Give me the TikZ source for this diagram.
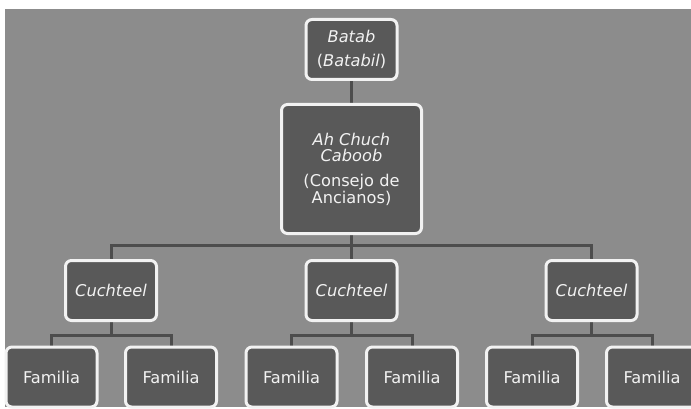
\documentclass[tikz,border=0pt]{standalone}
\usepackage{fontspec}
\setmainfont{DejaVu Sans}
\definecolor{bggray}{HTML}{8C8C8C}
\definecolor{boxgray}{HTML}{595959}
\definecolor{linegray}{HTML}{4D4D4D}
\definecolor{rimwhite}{HTML}{F2F2F2}
\pgfdeclarelayer{back}
\pgfdeclarelayer{mid}
\pgfsetlayers{back,mid,main}
\tikzset{
  orgbox/.style={rectangle, rounded corners=6pt, draw=rimwhite, line width=3pt,
    fill=boxgray, text=rimwhite, align=center, minimum width=91pt, minimum height=60pt,
    inner sep=2pt, font=\fontsize{16.2}{16.5}\selectfont},
  conn/.style={draw=linegray, line width=3pt}
}
\begin{document}
\begin{tikzpicture}[x=1pt,y=-1pt]
\useasboundingbox (0,0) rectangle (691,409);
\begin{pgfonlayer}{back}
\fill[white] (0,0) rectangle (691,409);
\fill[bggray] (5,9) rectangle (691,407);
\end{pgfonlayer}
\node[orgbox] (batab) at (351.5,49.5) {\textit{Batab}\\[8pt](\textit{Batabil})};
\node[orgbox, minimum width=140pt, minimum height=129pt] (council) at (351.5,169) {\textit{Ah Chuch}\\\textit{Caboob}\\[8.5pt](Consejo de\\Ancianos)};
\node[orgbox] (c1) at (111,290.5) {\textit{Cuchteel}};
\node[orgbox] (c2) at (351.5,290.5) {\textit{Cuchteel}};
\node[orgbox] (c3) at (591.5,290.5) {\textit{Cuchteel}};
\node[orgbox] (f1) at (51.5,377) {Familia};
\node[orgbox] (f2) at (171,377) {Familia};
\node[orgbox] (f3) at (291.5,377) {Familia};
\node[orgbox] (f4) at (412,377) {Familia};
\node[orgbox] (f5) at (532,377) {Familia};
\node[orgbox] (f6) at (652,377) {Familia};
\begin{pgfonlayer}{mid}
\draw[conn] (batab.south) -- (council.north);
\draw[conn] (council.south) -- ++(0,10) -| (c1.north);
\draw[conn] (council.south) -- ++(0,10) -| (c3.north);
\draw[conn] (council.south) -- (c2.north);
\draw[conn] (c1.south) -- ++(0,13) -| (f1.north);
\draw[conn] (c1.south) -- ++(0,13) -| (f2.north);
\draw[conn] (c2.south) -- ++(0,13) -| (f3.north);
\draw[conn] (c2.south) -- ++(0,13) -| (f4.north);
\draw[conn] (c3.south) -- ++(0,13) -| (f5.north);
\draw[conn] (c3.south) -- ++(0,13) -| (f6.north);
\end{pgfonlayer}
\end{tikzpicture}
\end{document}
